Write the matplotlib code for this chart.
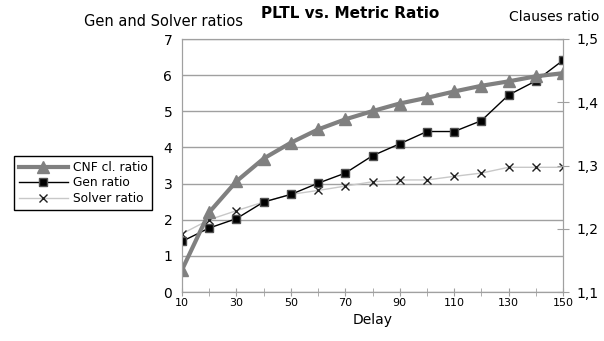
import matplotlib
matplotlib.use("Agg")
import matplotlib.pyplot as plt
from matplotlib.ticker import MultipleLocator, FixedLocator, FuncFormatter

delay = [10, 20, 30, 40, 50, 60, 70, 80, 90, 100, 110, 120, 130, 140, 150]
gen_ratio = [1.40, 1.77, 2.03, 2.49, 2.70, 3.01, 3.29, 3.77, 4.10, 4.44, 4.44, 4.74, 5.45, 5.84, 6.41]
solver_ratio = [1.61, 2.00, 2.25, 2.49, 2.70, 2.81, 2.93, 3.05, 3.10, 3.10, 3.20, 3.29, 3.45, 3.45, 3.45]
cnf_ratio = [1.135, 1.226, 1.275, 1.311, 1.336, 1.357, 1.373, 1.386, 1.398, 1.407, 1.417, 1.426, 1.433, 1.441, 1.446]

title = "PLTL vs. Metric Ratio"
left_label = "Gen and Solver ratios"
right_label = "Clauses ratio"
x_label = "Delay"
left_ticks = [0, 1, 2, 3, 4, 5, 6, 7]
right_ticks = [1.1, 1.2, 1.3, 1.4, 1.5]

spine_gray = "#a0a0a0"

fig = plt.figure(figsize=(6.04, 3.41), dpi=100)
ax = fig.add_axes([182/604, 1-292/341, (563-182)/604, (292-39)/341])
ax2 = ax.twinx()

ax.set_xlim(10, 150)
ax.set_ylim(0, 7)
ax2.set_ylim(1.1, 1.5)

ax.yaxis.set_major_locator(FixedLocator(left_ticks))
ax.grid(axis="y", color="#a0a0a0", linewidth=1.0, zorder=0)
ax.set_axisbelow(True)

ax.xaxis.set_major_locator(MultipleLocator(20, offset=10))
ax.xaxis.set_minor_locator(MultipleLocator(10))
ax.tick_params(axis="x", which="both", direction="inout", length=6, color=spine_gray,
               labelsize=8, pad=1)
ax.tick_params(axis="y", length=0, labelsize=10, pad=7)

ax2.yaxis.set_major_locator(FixedLocator(right_ticks))
ax2.yaxis.set_major_formatter(FuncFormatter(lambda v, p: f"{v:.1f}".replace(".", ",")))
ax2.tick_params(axis="y", direction="inout", length=8, color=spine_gray, labelsize=10, pad=6)

for a in (ax, ax2):
    for s in a.spines.values():
        s.set_color(spine_gray)

l_solver, = ax.plot(delay, solver_ratio, color="#c8c8c8", linewidth=1.0, marker="x",
                    markersize=6, markeredgecolor="#202020", markeredgewidth=1.0,
                    label="Solver ratio", zorder=3)
l_gen, = ax.plot(delay, gen_ratio, color="black", linewidth=1.0, marker="s",
                 markersize=6, markerfacecolor="black", markeredgecolor="#505050",
                 label="Gen ratio", zorder=4)
l_cnf, = ax2.plot(delay, cnf_ratio, color="#808080", linewidth=3.0, marker="^",
                  markersize=9, markerfacecolor="#808080", markeredgecolor="#808080",
                  label="CNF cl. ratio", zorder=2)

ax.set_xlabel(x_label, fontsize=10, labelpad=4)

fig.text(261/604, 1-13/341, title, fontsize=11, fontweight="bold", ha="left", va="center")
fig.text(164/604, 1-22/341, left_label, fontsize=10.5, ha="center", va="center")
fig.text(509/604, 1-17/341, right_label, fontsize=10, ha="left", va="center")

fig.legend(handles=[l_cnf, l_gen, l_solver], loc="upper left",
           bbox_to_anchor=(14/604, 1-156/341), fontsize=8.8, frameon=True,
           fancybox=False, edgecolor="black", framealpha=1, borderpad=0.4,
           labelspacing=0.2, handlelength=4, handletextpad=0.4, borderaxespad=0)

fig.savefig("out.png", dpi=100)
